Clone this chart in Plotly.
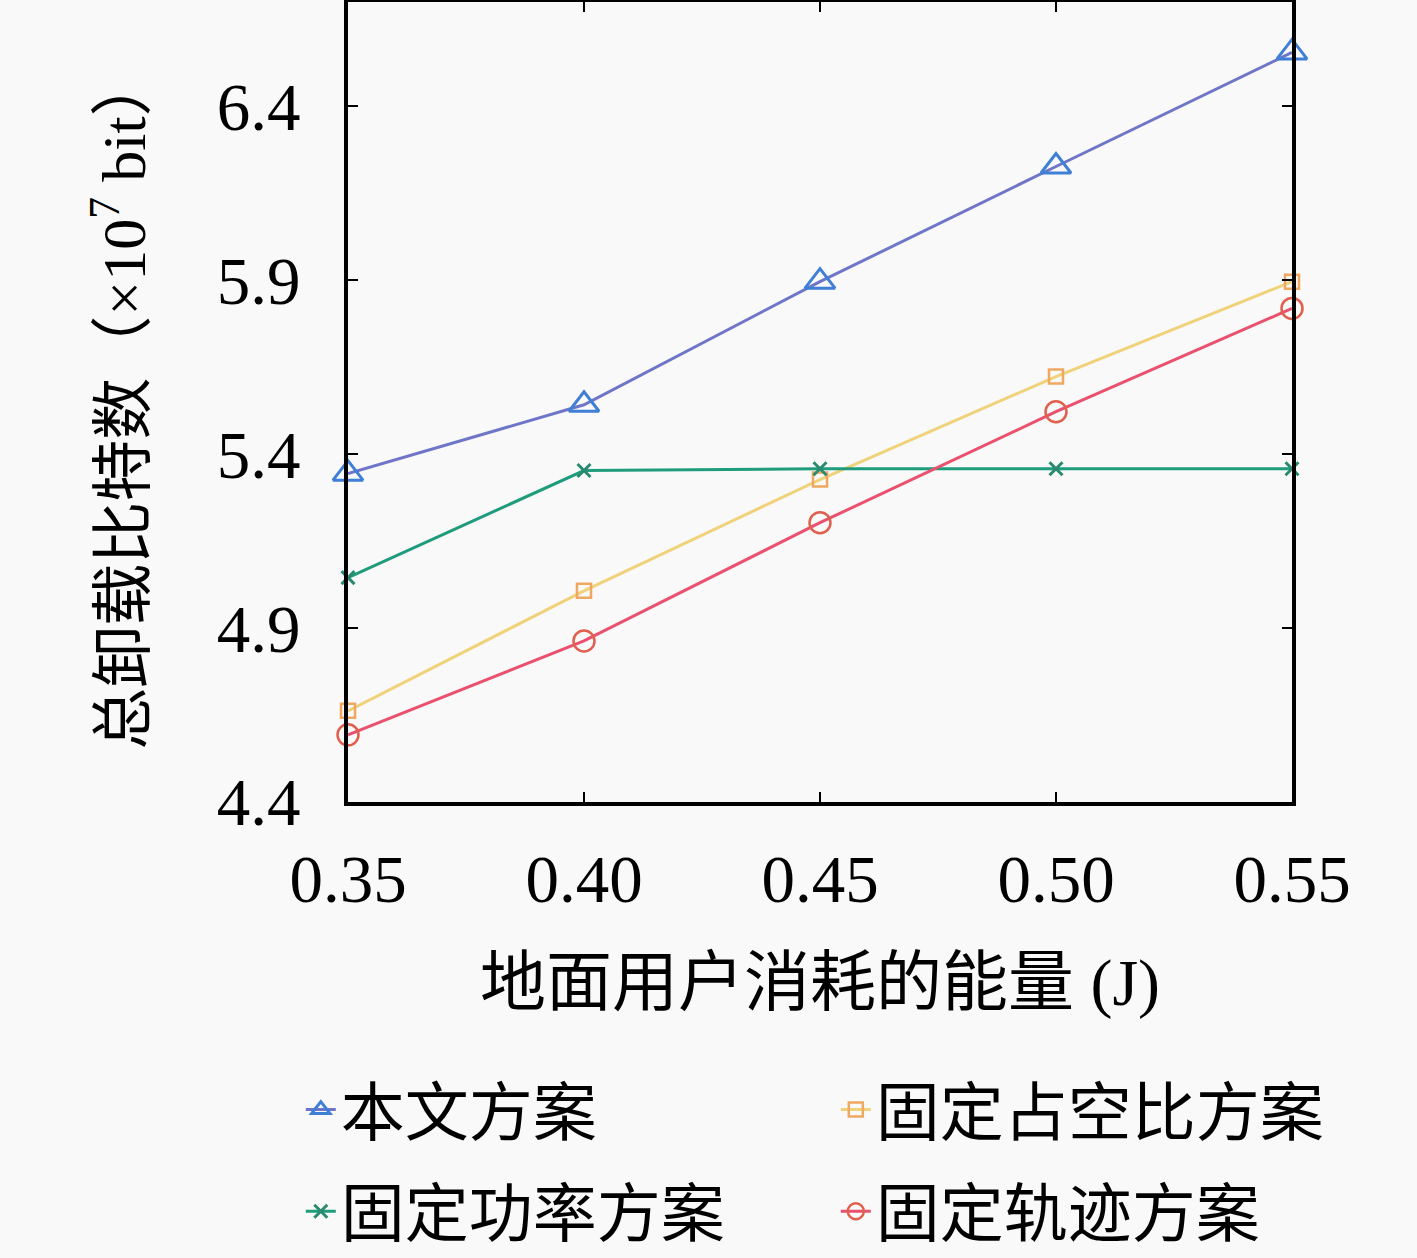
import plotly.graph_objects as go

energy = [0.35, 0.40, 0.45, 0.50, 0.55]
proposed = [5.344, 5.542, 5.896, 6.227, 6.555]
fixed_duty = [4.662, 5.007, 5.327, 5.623, 5.896]
fixed_power = [5.045, 5.353, 5.358, 5.358, 5.358]
fixed_traj = [4.593, 4.863, 5.203, 5.522, 5.819]

x_ticks = [0.35, 0.40, 0.45, 0.50, 0.55]
x_labels = ["0.35", "0.40", "0.45", "0.50", "0.55"]
y_ticks = [4.4, 4.9, 5.4, 5.9, 6.4]
y_labels = ["4.4", "4.9", "5.4", "5.9", "6.4"]

FONT = "Liberation Serif, Noto Sans CJK SC"

fig = go.Figure()

fig.add_trace(go.Scatter(
    x=energy, y=proposed, name="本文方案", mode="lines+markers",
    line=dict(color="#6f76c8", width=3),
    marker=dict(symbol="triangle-up-open", size=26, color="#3f7fd6", line=dict(width=3)),
    legend="legend", cliponaxis=False))
fig.add_trace(go.Scatter(
    x=energy, y=fixed_duty, name="固定占空比方案", mode="lines+markers",
    line=dict(color="#f0d27a", width=3),
    marker=dict(symbol="square-open", size=14, color="#f0a860", line=dict(width=2.5)),
    legend="legend", cliponaxis=False))
fig.add_trace(go.Scatter(
    x=energy, y=fixed_power, name="固定功率方案", mode="lines+markers",
    line=dict(color="#1f9c7c", width=3),
    marker=dict(symbol="x-thin", size=13, color="#2a8a70", line=dict(width=3, color="#2a8a70")),
    legend="legend2", cliponaxis=False))
fig.add_trace(go.Scatter(
    x=energy, y=fixed_traj, name="固定轨迹方案", mode="lines+markers",
    line=dict(color="#e9516e", width=3),
    marker=dict(symbol="circle-open", size=21, color="#e0604e", line=dict(width=2.5)),
    legend="legend2", cliponaxis=False))

legend_common = dict(
    orientation="h", xanchor="left", yanchor="middle", x=-0.05,
    entrywidth=490, entrywidthmode="pixels",
    font=dict(family=FONT, size=64, color="black"),
    bgcolor="rgba(0,0,0,0)", itemwidth=30,
)

fig.update_layout(
    width=1417, height=1258,
    paper_bgcolor="#f9f9f9", plot_bgcolor="#f9f9f9",
    margin=dict(l=348, r=125, t=2, b=456, autoexpand=False),
    font=dict(family=FONT, size=62, color="black"),
    legend=dict(y=-0.385, **legend_common),
    legend2=dict(y=-0.512, **legend_common),
    showlegend=True,
)

fig.update_xaxes(
    range=[0.35, 0.55], tickvals=x_ticks, ticktext=x_labels,
    showline=True, linewidth=4, linecolor="black", mirror="ticks",
    ticks="inside", ticklen=10, tickwidth=2, tickcolor="black",
    showgrid=False, zeroline=False, ticklabelstandoff=16,
    tickfont=dict(family=FONT, size=67),
    title=dict(text="地面用户消耗的能量 (J)", font=dict(family=FONT, size=66), standoff=44),
)
fig.update_yaxes(
    range=[4.4, 6.7], tickvals=y_ticks, ticktext=y_labels,
    showline=True, linewidth=4, linecolor="black", mirror="ticks",
    ticks="inside", ticklen=10, tickwidth=2, tickcolor="black",
    showgrid=False, zeroline=False, ticklabelstandoff=30,
    tickfont=dict(family=FONT, size=67),
    title=dict(text="总卸载比特数（×10<sup>7</sup> bit）", font=dict(family=FONT, size=62), standoff=52),
)

fig.write_html("out.html", config={"displayModeBar": False},
               post_script="document.body.style.margin='0';")
